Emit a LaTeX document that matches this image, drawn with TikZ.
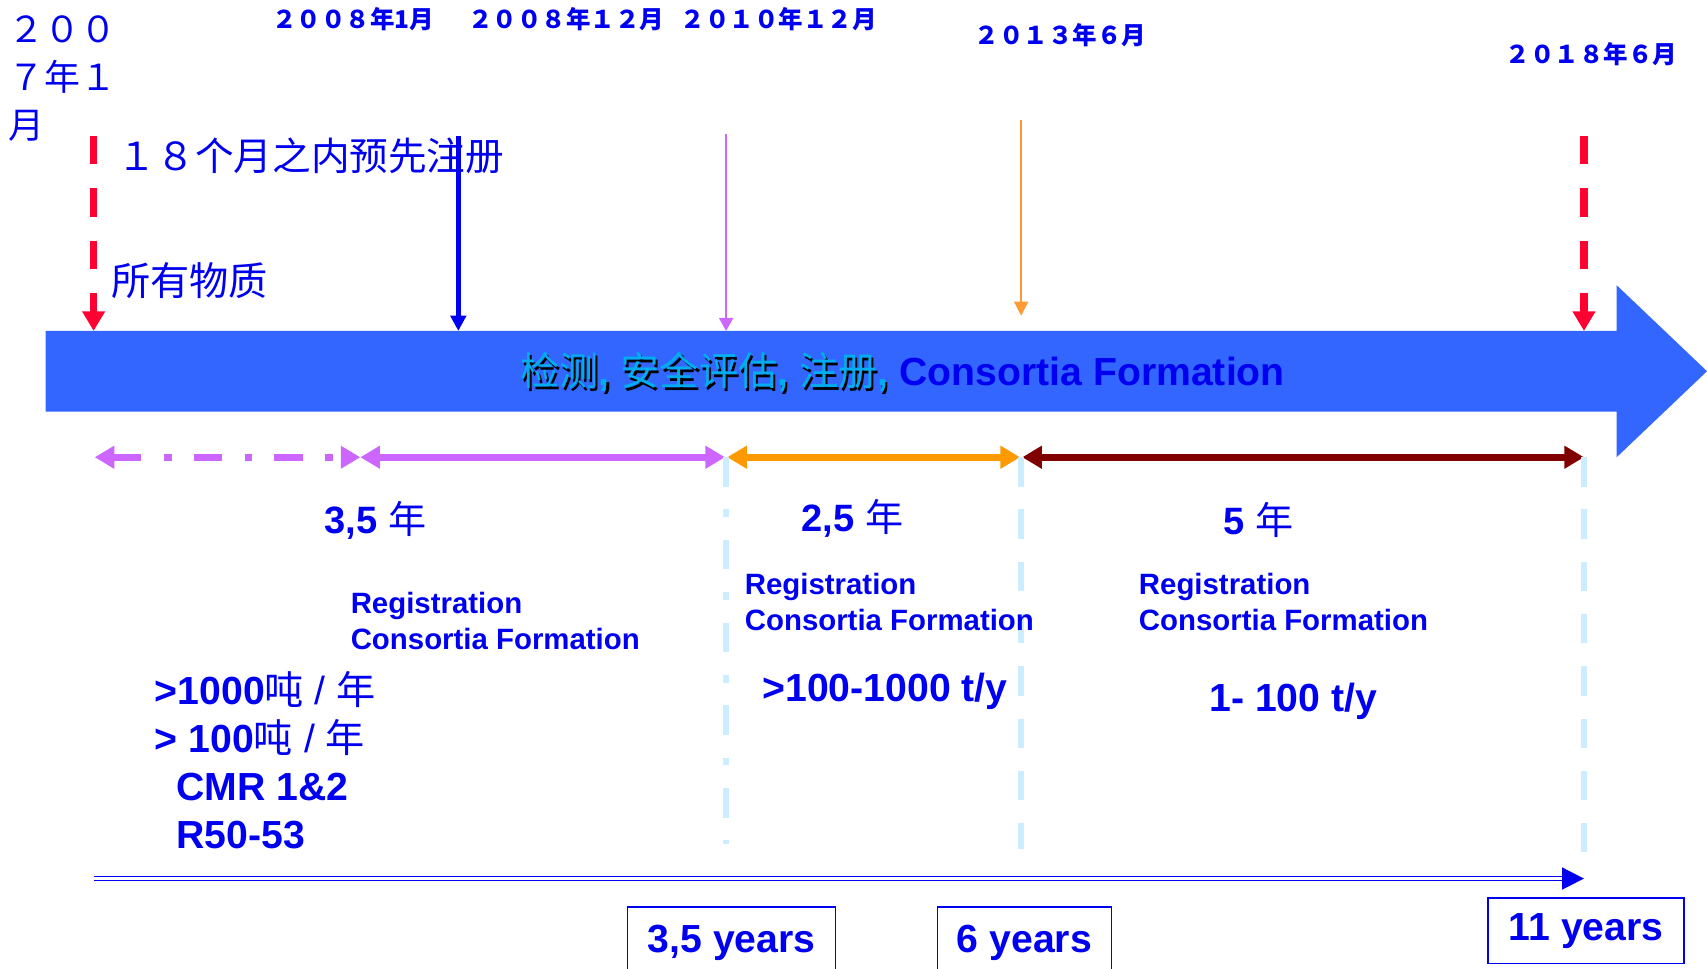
\documentclass[tikz,border=0pt]{standalone}
\usepackage{fontspec}
\setmainfont{Liberation Sans}
\newfontfamily\zh{Noto Sans CJK SC}
\usetikzlibrary{arrows.meta,positioning}

\definecolor{txtblue}{HTML}{0000F0}
\definecolor{barblue}{HTML}{3366FF}
\definecolor{markred}{HTML}{FF0033}
\definecolor{lilac}{HTML}{CC66FF}
\definecolor{amber}{HTML}{FF9900}
\definecolor{lightamber}{HTML}{FF9933}
\definecolor{maroon}{HTML}{800000}
\definecolor{paleblue}{HTML}{CCECFF}

\newcommand{\fsz}[2]{\fontsize{#1}{#2}\selectfont}
\newcommand{\castshadow}[1]{\rlap{\kern2pt\raisebox{-2pt}{\textcolor{black}{#1}}}\textcolor{cyan}{#1}}

\tikzset{
  redmark/.style={markred,line width=7pt,dash pattern=on 26pt off 22pt,-{Triangle[length=18pt,width=20pt]}},
  span/.style={line width=6.5pt,{Triangle[length=18pt,width=20pt]}-{Triangle[length=18pt,width=20pt]}},
  guide/.style={paleblue,line width=5.5pt},
  yearbox/.style={draw=txtblue,line width=1.3pt,font=\fsz{36}{43}\bfseries},
}

\begin{document}
\begin{tikzpicture}[x=1pt,y=-1pt,every node/.style={text=txtblue,inner sep=0pt}]
\useasboundingbox (0,0) rectangle (1568,890);
\clip (0,0) rectangle (1568,890);

% the big arrow
\fill[barblue] (42,304) -- (1485,304) -- (1485,262) -- (1568,341) -- (1485,420) -- (1485,378) -- (42,378) -- cycle;
\coordinate (bartop) at (42,304);
\node[anchor=west,font=\fsz{36}{43}\bfseries] (bartext) at (478,343)
  {\castshadow{{\zh\mdseries 检测}, {\zh\mdseries 安全评估}, {\zh\mdseries 注册}, }Consortia Formation};

% dates on top
\node[anchor=west,align=left,font=\zh\fsz{33}{44}] (d2007) at (8,72) {２００\\７年１\\月};
\foreach \dx/\dy/\dd in {250/18/２００８年1月, 430/18/２００８年１２月, 625/18/２０１０年１２月, 895/32/２０１３年６月, 1383/50/２０１８年６月}
  \node[anchor=west,font=\zh\bfseries\fsz{22.5}{27}] at (\dx,\dy) {\dd};

\node[anchor=west,font=\zh\fsz{35.5}{42}] (pre) at (108,143) {１８个月之内预先注册};
\node[anchor=west,font=\zh\fsz{36}{42}] (allsub) at (102,258) {所有物质};

% markers down to the bar
\coordinate (m2007) at (86,125);
\coordinate (m2008) at (421,125);
\coordinate (m2010) at (667,123);
\coordinate (m2013) at (938,110);
\coordinate (m2013end) at (938,290);
\coordinate (m2018) at (1455,125);
\draw[redmark] (m2007) -- (m2007 |- bartop);
\draw[redmark] (m2018) -- (m2018 |- bartop);
\draw[txtblue,line width=4.5pt,-{Triangle[length=14pt,width=14pt]}] (m2008) -- (m2008 |- bartop);
\draw[lilac,line width=1.5pt,-{Triangle[length=12pt,width=13pt]}] (m2010) -- (m2010 |- bartop);
\draw[lightamber,line width=1.5pt,-{Triangle[length=13pt,width=13pt]}] (m2013) -- (m2013end);

% periods
\coordinate (p0) at (87,420);
\coordinate (p1) at (331,420);
\coordinate (p2) at (667,420);
\coordinate (p3) at (938,420);
\coordinate (p4) at (1455,420);
\draw[span,lilac,dash pattern=on 26pt off 21pt on 7pt off 20pt] (p0) -- (p1);
\draw[span,lilac] (p1) -- ([xshift=-1pt]p2);
\draw[span,amber] ([xshift=1pt]p2) -- ([xshift=-1pt]p3);
\draw[span,maroon] ([xshift=1pt]p3) -- (p4);

% guides
\coordinate (g2) at (667,775);
\coordinate (g3) at (938,780);
\coordinate (g4) at (1455,795);
\draw[guide,dash pattern=on 27pt off 21pt on 7pt off 21pt] (p2) -- (g2);
\draw[guide,dash pattern=on 27pt off 21pt] (p3) -- (g3);
\draw[guide,dash pattern=on 27pt off 21pt] (p4) -- (g4);

% period texts
\node[font=\fsz{35}{42}\bfseries] (y35) at (345,478) {3,5 {\zh\mdseries 年}};
\node[font=\fsz{35}{42}\bfseries] (y25) at (783,476) {2,5 {\zh\mdseries 年}};
\node[font=\fsz{35}{42}\bfseries] (y5) at (1156,478) {5 {\zh\mdseries 年}};

\node[anchor=west,align=left,font=\fsz{27}{33}\bfseries] (reg1) at (322,570) {Registration\\Consortia Formation};
\node[anchor=west,align=left,font=\fsz{27}{33}\bfseries] (reg2) at (684,553) {Registration\\Consortia Formation};
\node[anchor=west,align=left,font=\fsz{27}{33}\bfseries] (reg3) at (1046,553) {Registration\\Consortia Formation};

\node[anchor=west,align=left,font=\fsz{36}{44}\bfseries] (tonsA) at (142,698)
  {>1000{\zh\mdseries 吨}\mdseries{} / {\zh 年}\\> 100{\zh\mdseries 吨}\mdseries{} / {\zh 年}\\\hspace*{20pt}CMR 1\&2\\\hspace*{20pt}R50-53};
\node[font=\fsz{36}{43}\bfseries] (tonsB) at (813,635) {>100-1000 t/y};
\node[font=\fsz{36}{43}\bfseries] (tonsC) at (1188,644) {1- 100 t/y};

% total time line
\coordinate (tstart) at (86,807);
\coordinate (tend) at (1455,807);
\draw[txtblue,double=white,line width=1.5pt,double distance=2pt,-{Triangle[length=20pt,width=20pt]}] (tstart) -- (tend);

\node[yearbox,minimum width=191pt,minimum height=66pt] (t35) at (672,866) {3,5 years};
\node[yearbox,minimum width=160pt,minimum height=66pt] (t6) at (941,866) {6 years};
\node[yearbox,minimum width=180pt,minimum height=60pt] (t11) at (1457,855) {11 years};
\end{tikzpicture}
\end{document}
